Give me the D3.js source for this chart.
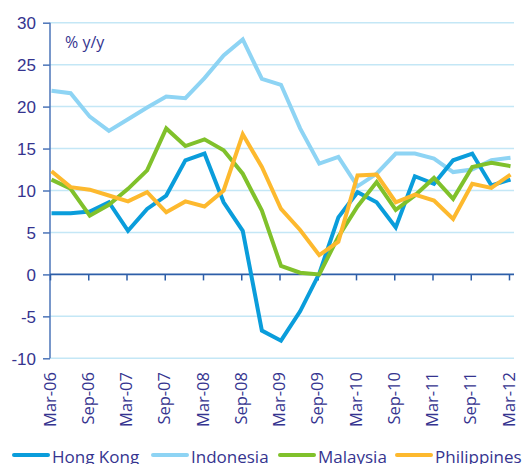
<!DOCTYPE html>
<html>
<head>
<meta charset="utf-8">
<script src="https://cdn.jsdelivr.net/npm/d3@7"></script>
<style>
  body { margin: 0; background: #fff; }
  svg { display: block; font-family: "Open Sans", sans-serif; }
</style>
</head>
<body>
<svg id="chart" width="525" height="464"></svg>
<script>
const quarters = ["Mar-06","Jun-06","Sep-06","Dec-06","Mar-07","Jun-07","Sep-07","Dec-07",
  "Mar-08","Jun-08","Sep-08","Dec-08","Mar-09","Jun-09","Sep-09","Dec-09",
  "Mar-10","Jun-10","Sep-10","Dec-10","Mar-11","Jun-11","Sep-11","Dec-11","Mar-12"]

const hongKong = [7.3, 7.3, 7.5, 8.6, 5.2, 7.8, 9.4, 13.6, 14.4, 8.6, 5.2, -6.7, -7.9,
  -4.4, 0.1, 6.8, 9.8, 8.6, 5.6, 11.7, 10.8, 13.6, 14.4, 10.6, 11.3]
const indonesia = [21.9, 21.6, 18.8, 17.1, 18.5, 19.9, 21.2, 21.0, 23.4, 26.1, 28.0, 23.3, 22.6,
  17.4, 13.2, 14.0, 10.5, 12.0, 14.4, 14.4, 13.8, 12.2, 12.5, 13.6, 13.9]
const malaysia = [11.3, 10.2, 7.0, 8.3, 10.2, 12.4, 17.4, 15.3, 16.1, 14.8, 12.0, 7.6, 1.0,
  0.2, 0.0, 4.5, 8.1, 11.0, 7.7, 9.4, 11.5, 9.0, 12.8, 13.3, 12.9]
const philippines = [12.3, 10.4, 10.1, 9.4, 8.7, 9.8, 7.4, 8.7, 8.1, 10.0, 16.7, 12.8, 7.8,
  5.3, 2.3, 3.9, 11.8, 11.9, 8.6, 9.5, 8.8, 6.6, 10.8, 10.3, 11.9]

const yTicks = [-10, -5, 0, 5, 10, 15, 20, 25, 30]
const xTickLabels = quarters.filter((d, i) => i % 2 === 0)

const series = [
  { name: "Indonesia", values: indonesia, color: "#8ed4f4" },
  { name: "Hong Kong", values: hongKong, color: "#0a9ddb" },
  { name: "Malaysia", values: malaysia, color: "#80c12b" },
  { name: "Philippines", values: philippines, color: "#fdb92e" }
]
const legendOrder = ["Hong Kong", "Indonesia", "Malaysia", "Philippines"]

const textColor = "#35348f"
const svg = d3.select("#chart")

const x = d3.scalePoint().domain(quarters).range([51.5, 510.5])
const y = d3.scaleLinear().domain([-10, 30]).range([358.3, 22.7])
const left = 50, right = 514

// gridlines
svg.append("g")
  .selectAll("line")
  .data(yTicks.filter(d => d !== 0))
  .join("line")
  .attr("x1", left).attr("x2", right)
  .attr("y1", d => y(d)).attr("y2", d => y(d))
  .attr("stroke", "#c4e7f6").attr("stroke-width", 1.5)

// y axis (plain hyphen for negatives, like the original)
const yAxis = svg.append("g")
  .attr("transform", `translate(${left},0)`)
  .call(d3.axisLeft(y).tickValues(yTicks).tickSize(7).tickPadding(7).tickFormat(d => String(d)))
yAxis.select(".domain").attr("stroke", "#4b74b8").attr("stroke-width", 1.5)
  .attr("d", `M0,${y(30)}V${y(-10)}`)
yAxis.selectAll(".tick line").attr("stroke", "#4b74b8").attr("stroke-width", 1.5)
yAxis.selectAll(".tick text")
  .attr("fill", textColor).style("font-size", "17px")
  .attr("dy", "0.36em")

// zero line with x ticks
const xAxis = svg.append("g")
  .attr("transform", `translate(0,${y(0)})`)
  .call(d3.axisBottom(x).tickValues(xTickLabels).tickSize(6).tickFormat(""))
xAxis.select(".domain").attr("stroke", "#2d5ea8").attr("stroke-width", 1.8)
  .attr("d", `M${left},0H${right}`)
xAxis.selectAll(".tick line").attr("stroke", "#2d5ea8").attr("stroke-width", 1.5)
  .attr("transform", "translate(-1.5,0)")

// x labels at bottom
svg.append("g")
  .selectAll("text")
  .data(xTickLabels)
  .join("text")
  .attr("transform", d => `translate(${x(d) + 4},372) rotate(-90)`)
  .attr("text-anchor", "end")
  .attr("fill", textColor)
  .style("font-size", "16.5px")
  .text(d => d)

// lines
const line = d3.line()
  .x((d, i) => x(quarters[i]))
  .y(d => y(d))

svg.append("g")
  .selectAll("path")
  .data(series)
  .join("path")
  .attr("d", d => line(d.values))
  .attr("fill", "none")
  .attr("stroke", d => d.color)
  .attr("stroke-width", 4)
  .attr("stroke-linejoin", "miter")

// unit label
svg.append("text")
  .attr("x", 65).attr("y", 48)
  .attr("fill", textColor)
  .style("font-size", "16px")
  .text("% y/y")

// legend (bottom edge clips it in the original too)
const legendX = [14, 153, 280, 397]
const legend = svg.append("g")
  .selectAll("g")
  .data(legendOrder)
  .join("g")
  .attr("transform", (d, i) => `translate(${legendX[i]},455)`)
legend.append("line")
  .attr("x1", 0).attr("x2", 34)
  .attr("stroke", d => series.find(s => s.name === d).color)
  .attr("stroke-width", 4).attr("stroke-linecap", "round")
legend.append("text")
  .attr("x", 38).attr("y", 8)
  .attr("fill", textColor)
  .style("font-size", "17px")
  .text(d => d)
</script>
</body>
</html>
